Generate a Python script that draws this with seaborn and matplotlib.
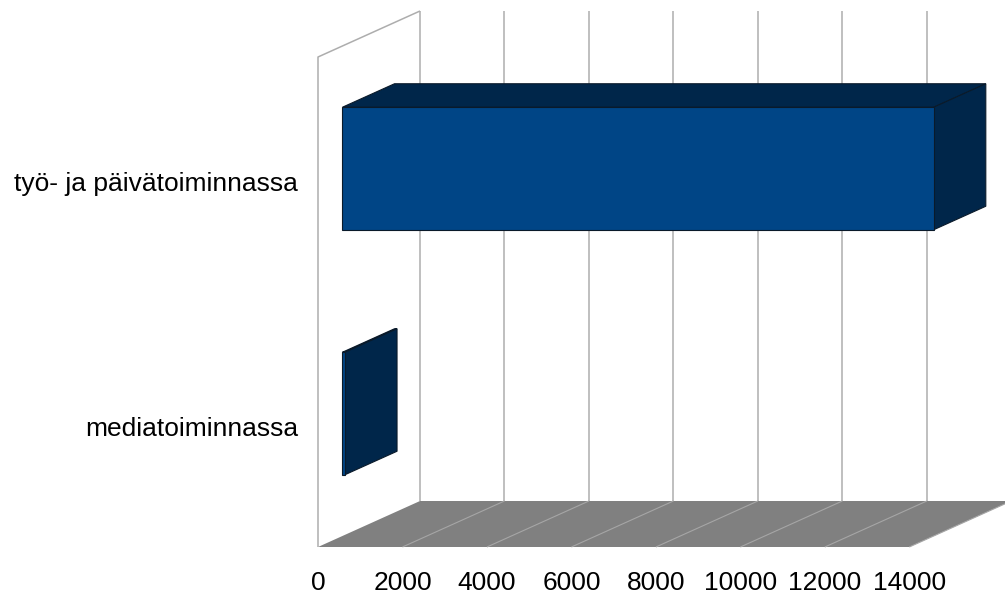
import matplotlib
matplotlib.use("Agg")
import matplotlib.pyplot as plt
import numpy as np
import pandas as pd
import seaborn as sns
from matplotlib.patches import Polygon
from matplotlib.transforms import Affine2D, IdentityTransform

categories = ["työ- ja päivätoiminnassa", "mediatoiminnassa"]
values = [14000, 60]
xticks = [0, 2000, 4000, 6000, 8000, 10000, 12000, 14000]

W, H = 1005, 594
DEPTH = np.array([102.0, 46.0])
D0, D1 = 0.24, 0.75
FRONT, DARK, EDGE = "#004586", "#00264A", "#0A1A2A"
GRID, FLOOR, FLOORLINE = "#ADADAD", "#808080", "#A6A6A6"

sns.set_theme(style="white")
plt.rcParams["font.family"] = ["Liberation Sans", "DejaVu Sans"]

fig = plt.figure(figsize=(W / 100, H / 100), dpi=100)
ax = fig.add_axes([318 / W, (H - 547) / H, (909.3 - 318) / W, (547 - 57) / H])
ax.patch.set_alpha(0)

df = pd.DataFrame({"category": categories, "value": values})
sns.barplot(data=df, x="value", y="category", orient="h", width=0.5, color=FRONT,
            saturation=1, edgecolor=EDGE, linewidth=0.8, ax=ax, zorder=5)
ax.set_xlim(0, 14000)
ax.set_ylim(1.5, -0.5)
ax.set_xlabel("")
ax.set_ylabel("")
ax.set_xticks(xticks)
ax.set_xticklabels([str(t) for t in xticks])
sns.despine(ax=ax, left=True, bottom=True, top=True, right=True)
ax.grid(False)
ax.tick_params(axis="x", length=0, pad=17.5, labelsize=19, colors="black")
ax.tick_params(axis="y", length=0, pad=14.3, labelsize=19, colors="black")
for lab in ax.get_yticklabels():
    lab.set_verticalalignment("center")
    lab.set_transform(lab.get_transform() + Affine2D().translate(0, -5))


def proj(v, y, d):
    return ax.transData.transform((v, y)) + d * DEPTH


def poly(points, fc, ec="none", lw=0.0, z=1):
    p = Polygon(points, closed=True, facecolor=fc, edgecolor=ec, linewidth=lw,
                transform=IdentityTransform(), zorder=z, clip_on=False)
    ax.add_artist(p)
    p.set_clip_on(False)


def line(points, color, lw=1.1, z=1):
    pts = np.array(points)
    ax.plot(pts[:, 0], pts[:, 1], color=color, lw=lw, transform=IdentityTransform(),
            clip_on=False, zorder=z, solid_capstyle="butt")


y_floor, y_top = 1.5, -0.5

# floor
poly([proj(0, y_floor, 0), proj(14000, y_floor, 0), proj(14000, y_floor, 1), proj(0, y_floor, 1)],
     FLOOR, z=1)

# walls and grid
line([proj(0, y_floor, 0), proj(0, y_top, 0), proj(0, y_top, 1)], GRID, 1.1, z=2)
for t in xticks:
    line([proj(t, y_floor, 1), proj(t, y_top, 1)], GRID, 1.1, z=2)
    if t > 0:
        line([proj(t, y_floor, 0), proj(t, y_floor, 1)], FLOORLINE, 0.8, z=2)

# bars: front faces come from seaborn, moved into the middle of the depth
front_shift = ax.transData + Affine2D().translate(*(D0 * DEPTH))
for bar, v, ypos in zip(ax.patches[:2], values, range(2)):
    bar.set_transform(front_shift)
    bar.set_clip_on(False)
    y0, y1 = ypos - 0.25, ypos + 0.25
    poly([proj(0, y0, D0), proj(v, y0, D0), proj(v, y0, D1), proj(0, y0, D1)],
         DARK, EDGE, 0.8, z=4)
    poly([proj(v, y0, D0), proj(v, y1, D0), proj(v, y1, D1), proj(v, y0, D1)],
         DARK, EDGE, 0.8, z=4)

fig.savefig("out.png", dpi=100)
